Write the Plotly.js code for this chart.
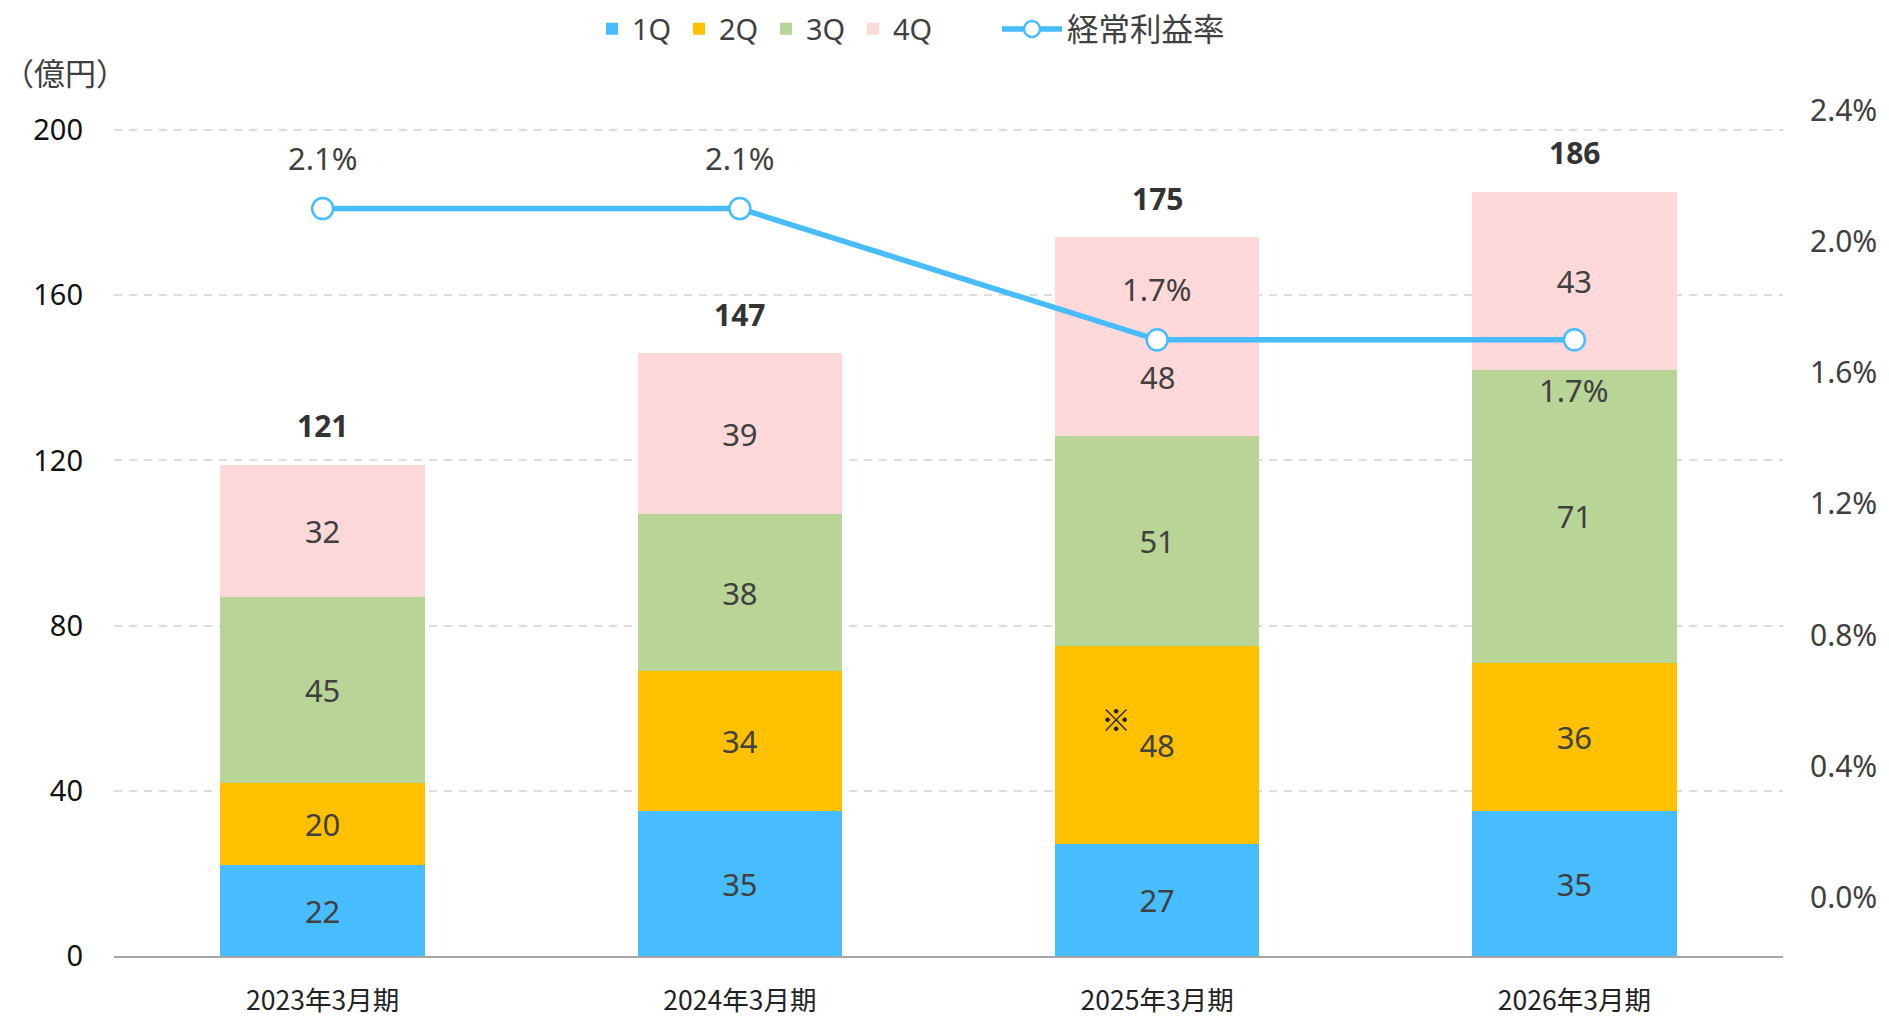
<!DOCTYPE html>
<html>
<head>
<meta charset="utf-8">
<script src="https://cdn.plot.ly/plotly-3.0.1.min.js"></script>
<style>html,body{margin:0;padding:0;background:#fff;}#chart{width:1889px;height:1019px;}</style>
</head>
<body>
<div id="chart"></div>
<script>
// ---- data ----
const categories = ['2023年3月期', '2024年3月期', '2025年3月期', '2026年3月期'];
const q1 = [22, 35, 27, 35];
const q2 = [20, 34, 48, 36];
const q3 = [45, 38, 51, 71];
const q4 = [32, 39, 48, 43];
const totals = [121, 147, 175, 186];
const rate = [2.1, 2.1, 1.7, 1.7];            // 経常利益率 (%)
const rateLabelAbove = [true, true, true, false];
const seriesNames = ['1Q', '2Q', '3Q', '4Q'];
const lineName = '経常利益率';
const rightTickVals = [0, 0.4, 0.8, 1.2, 1.6, 2.0, 2.4];
const rightTickText = ['0.0%', '0.4%', '0.8%', '1.2%', '1.6%', '2.0%', '2.4%'];
const unitLabel = '（億円）';
const noteMark = '※';
const noteCategory = '2025年3月期';

// ---- styles ----
const FONT = '"Noto Sans", "Noto Sans CJK JP", sans-serif';
const JP = '"Noto Sans CJK JP", sans-serif';
const TXT = '#404040';
const colors = ['#47BCFF', '#FFC000', '#B8D496', '#FFD8D9'];
const LINE = '#47BCFF';

const quarters = [q1, q2, q3, q4];
const traces = quarters.map((vals, i) => {
  const txt = vals.map((v, j) => (i === 3 && j === 2) ? '' : String(v));
  return {
    type: 'bar', name: seriesNames[i], x: categories, y: vals,
    marker: {color: colors[i], line: {width: 0}},
    text: txt, textposition: 'inside', insidetextanchor: 'middle', textangle: 0,
    constraintext: 'none',
    textfont: {family: FONT, size: 31, color: TXT},
    legend: 'legend',
    hoverinfo: 'skip'
  };
});
traces.push({
  type: 'scatter', mode: 'lines+markers', name: lineName,
  x: categories, y: rate, yaxis: 'y2', legend: 'legend2',
  line: {color: LINE, width: 5.5},
  marker: {symbol: 'circle', size: 21, color: '#ffffff', line: {color: LINE, width: 2.5}},
  hoverinfo: 'skip'
});

// stack sums
const sums = categories.map((c, j) => q1[j] + q2[j] + q3[j] + q4[j]);

const annotations = [];
categories.forEach((c, j) => {
  annotations.push({
    x: c, y: sums[j], xref: 'x', yref: 'y', text: '<b>' + totals[j] + '</b>',
    showarrow: false, yanchor: 'middle', yshift: 39,
    font: {family: FONT, size: 30, color: '#333333'}
  });
  annotations.push({
    x: c, y: rate[j], xref: 'x', yref: 'y2', text: rate[j].toFixed(1) + '%',
    showarrow: false, yanchor: 'middle', yshift: rateLabelAbove[j] ? 51 : -50,
    font: {family: FONT, size: 31, color: TXT}
  });
});
// 4Q label for 2025 (shifted below the line marker)
annotations.push({
  x: categories[2], y: q1[2] + q2[2] + q3[2] + q4[2] / 2, xref: 'x', yref: 'y',
  text: String(q4[2]), showarrow: false, yanchor: 'middle', yshift: -41,
  font: {family: FONT, size: 31, color: TXT}
});
// ※ note mark on 2025 2Q
annotations.push({
  x: noteCategory, y: q1[2] + q2[2] / 2, xref: 'x', yref: 'y',
  text: noteMark, showarrow: false, xshift: -41, yshift: 27,
  font: {family: JP, size: 30, color: '#222222'}
});
// unit label
annotations.push({
  x: -0.0677, y: 1.033, xref: 'paper', yref: 'paper', xanchor: 'left', yanchor: 'middle',
  text: unitLabel, showarrow: false,
  font: {family: JP, size: 31, color: TXT}
});

const layout = {
  width: 1889, height: 1019,
  margin: {l: 114, r: 106, t: 100, b: 63, pad: 0, autoexpand: false},
  paper_bgcolor: '#ffffff', plot_bgcolor: '#ffffff',
  barmode: 'stack', bargap: 0.51,
  font: {family: FONT, color: TXT},
  showlegend: true,
  legend: {
    orientation: 'h', x: (592 - 114) / 1669, xanchor: 'left', y: 1.083, yanchor: 'middle',
    traceorder: 'normal', font: {family: FONT, size: 29, color: TXT},
    entrywidth: 42, entrywidthmode: 'pixels',
    bgcolor: 'rgba(0,0,0,0)', borderwidth: 0
  },
  legend2: {
    orientation: 'h', x: (997 - 114) / 1669, xanchor: 'left', y: 1.083, yanchor: 'middle',
    font: {family: JP, size: 31.5, color: TXT}, itemwidth: 60,
    bgcolor: 'rgba(0,0,0,0)', borderwidth: 0
  },
  xaxis: {
    type: 'category', range: [-0.5, 3.5], fixedrange: true,
    showline: true, linecolor: '#a6a6a6', linewidth: 2,
    showgrid: false, zeroline: false, ticks: '',
    ticklabelstandoff: 20,
    tickfont: {family: JP, size: 26.5, color: '#222222'}
  },
  yaxis: {
    range: [0, 207.26], dtick: 40, tick0: 0, fixedrange: true,
    showgrid: true, gridcolor: '#dcdcdc', gridwidth: 2, griddash: '8px,7px',
    zeroline: false, showline: false, ticks: '',
    ticklabelstandoff: 30,
    tickfont: {family: FONT, size: 29, color: '#111111'}
  },
  yaxis2: {
    overlaying: 'y', side: 'right', range: [-0.178, 2.431], fixedrange: true,
    tickmode: 'array', tickvals: rightTickVals, ticktext: rightTickText,
    showgrid: false, zeroline: false, showline: false, ticks: '',
    ticklabelstandoff: 26,
    tickfont: {family: FONT, size: 30, color: TXT}
  },
  annotations: annotations
};

Plotly.newPlot('chart', traces, layout, {staticPlot: true, displayModeBar: false});
</script>
</body>
</html>
